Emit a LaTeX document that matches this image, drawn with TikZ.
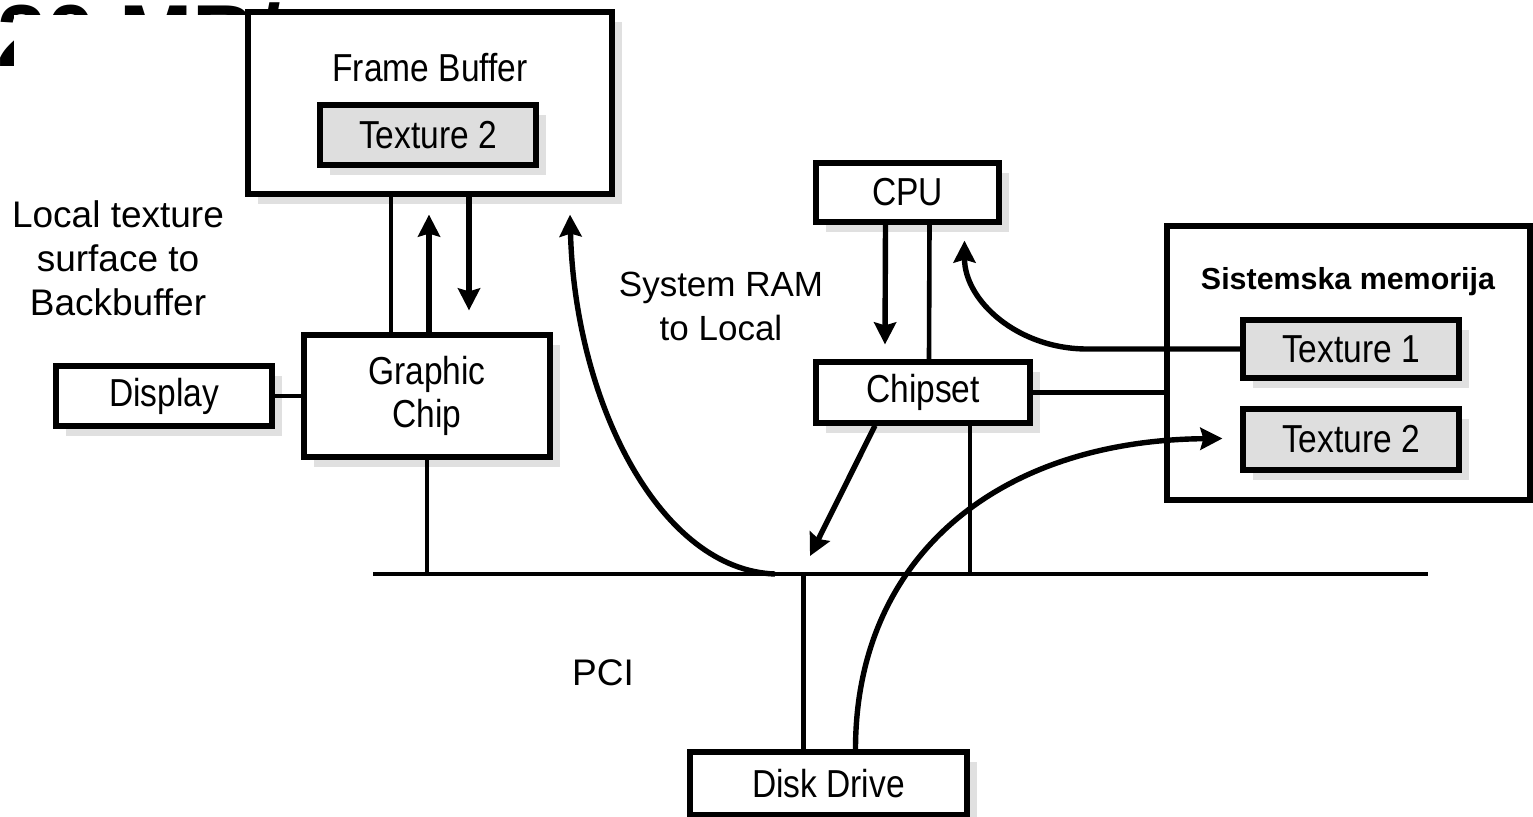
\documentclass[tikz,border=0pt]{standalone}
\usepackage{fontspec}
\newfontfamily\diafont[FakeStretch=0.86]{Liberation Sans}
\newfontfamily\labfont{Liberation Sans}
\usetikzlibrary{calc, arrows.meta, shadows}
\tikzset{
    box/.style={draw, line width=2.6pt, fill=white, inner sep=0pt, align=center,
        font=\diafont\fontsize{19.5}{20.5}\selectfont,
        drop shadow={shadow xshift=5pt, shadow yshift=-5pt, fill=black!12, opacity=1}},
    texbox/.style={box, fill=black!13},
    link/.style={line width=2.3pt},
    arr/.style={line width=2.7pt, -{Stealth[length=11pt, width=11pt, inset=1.5pt]}},
    note/.style={font=\labfont\fontsize{17.5}{22}\selectfont, align=center},
    common settings/.style={x=0.5pt, y=-0.5pt} % one unit = one pixel, y downwards
}
\begin{document}
\begin{tikzpicture}[common settings]
    \useasboundingbox (0,0) rectangle (1533,816);

    % Slide title, mostly hidden behind the figure
    \node[font=\labfont\fontsize{44}{50}\selectfont\bfseries, anchor=base west, inner sep=0pt] (slidetitle) at (-3,66) {20 MB/};
    \fill[white] (14,15) rectangle (1533,816);

    % Graphics side
    \node[box, minimum width=182pt, minimum height=91pt] (fb) at (430,103) {};
    \node[font=\diafont\fontsize{19.5}{20.5}\selectfont] (fbname) at (430,68) {Frame Buffer};
    \node[texbox, minimum width=108pt, minimum height=30pt] (fbtex) at (428,135) {Texture 2};
    \node[box, minimum width=123pt, minimum height=61pt] (gchip) at (427,396) {Graphic\\[1pt]Chip};
    \node[box, minimum width=108pt, minimum height=30pt] (disp) at (164,396) {Display};

    % Host side
    \node[box, minimum width=91.5pt, minimum height=29.5pt] (cpu) at (907.5,192.5) {CPU};
    \node[box, minimum width=107pt, minimum height=30.5pt] (chipset) at (923,392.5) {Chipset};
    \node[draw, line width=2.6pt, fill=white, minimum width=181.5pt, minimum height=137pt] (sysmem) at (1348.5,363) {};
    \node[font=\labfont\fontsize{15.2}{18}\selectfont\bfseries] (sysname) at (1348,282) {Sistemska memorija};
    \node[texbox, minimum width=108pt, minimum height=29pt] (tex1) at (1351,349) {Texture 1};
    \node[texbox, minimum width=108pt, minimum height=30.5pt] (tex2) at (1351,439.5) {Texture 2};
    \node[box, minimum width=138.5pt, minimum height=31.5pt] (disk) at (828.5,783.5) {Disk Drive};

    % PCI bus
    \coordinate (busL) at (373,574);
    \coordinate (busR) at (1428,574);
    \coordinate (busfork) at (775,574);
    \draw[link] (busL) -- (busR);

    % Labels
    \node[note, font=\labfont\fontsize{18.5}{22}\selectfont] (localnote) at (118,258) {Local texture\\surface to\\Backbuffer};
    \node[note] (ramnote) at (721,306) {System RAM\\to Local};
    \node[note, font=\labfont\fontsize{18.5}{22}\selectfont] (pcinote) at (603,673) {PCI};

    % Frame buffer <-> graphic chip
    \draw[link] ($(fb.south)+(-39,0)$) -- ($(gchip.north)+(-36,0)$);
    \draw[arr] ($(gchip.north)+(2,0)$) -- ($(fb.south)+(-1,18)$);
    \draw[arr] ($(fb.south)+(39,0)$) -- ($(gchip.north)+(42,-22)$);
    \draw[link] (disp.east) -- (gchip.west);
    \draw[link] (gchip.south) -- (gchip.south |- busL);

    % System RAM to local memory
    \coordinate (fbin) at ($(fb.south)+(140,18)$);
    \draw[arr] (busfork) .. controls +(-115,-4) and +(5,188) .. (fbin);

    % CPU <-> chipset
    \draw[arr] ($(cpu.south)+(-22,0)$) -- ($(chipset.north)+(-38,-15)$);
    \draw[link] ($(cpu.south)+(22,0)$) -- ($(chipset.north)+(6,0)$);
    \coordinate (cpuin) at ($(cpu.south)+(57,16)$);
    \draw[arr] (tex1.west) -- ++(-153,0) .. controls +(-70,0) and +(0,60) .. (cpuin);

    % Chipset to memory and bus
    \draw[link] (chipset.east) -- (chipset.east -| sysmem.west);
    \coordinate (chipdown) at ($(chipset.south)+(47,0)$);
    \draw[link] (chipdown) -- (chipdown |- busL);
    \draw[arr] ($(chipset.south)+(-48,0)$) -- ($(busfork)+(35,-18)$);

    % Disk drive
    \coordinate (diskup) at ($(disk.north)+(-25,0)$);
    \draw[link] (diskup) -- (diskup |- busL);
    \coordinate (diskout) at ($(disk.north)+(27,0)$);
    \coordinate (texin) at ($(tex2.west)+(-18,-1)$);
    \draw[arr] (diskout) .. controls +(0,-192) and +(-225,2) .. (texin);

\end{tikzpicture}
\end{document}
